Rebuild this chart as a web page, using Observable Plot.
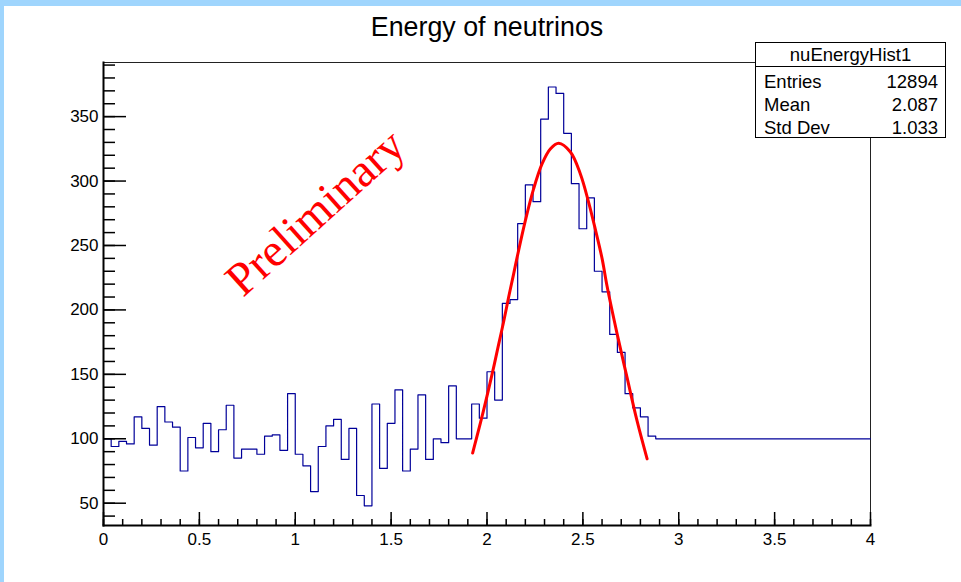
<!DOCTYPE html>
<html>
<head>
<meta charset="utf-8">
<script src="https://cdn.jsdelivr.net/npm/d3@7"></script>
<script src="https://cdn.jsdelivr.net/npm/@observablehq/plot@0.6"></script>
<style>
  html, body { margin: 0; padding: 0; background: white; }
  #wrap { position: relative; width: 961px; height: 582px; overflow: hidden; background: white; }
  #bandTop { position: absolute; left: 0; top: 0; width: 961px; height: 6px; background: #9fd5fd; }
  #bandLeft { position: absolute; left: 0; top: 0; width: 4px; height: 582px; background: #9fd5fd; }
  #stats { position: absolute; left: 755px; top: 42px; width: 189px; height: 94px; overflow: hidden;
           border: 1.5px solid #000; background: #fff; font-family: "Liberation Sans", Arial, sans-serif;
           font-size: 18.5px; color: #000; }
  #stats .head { height: 23px; line-height: 24px; text-align: center; border-bottom: 1.5px solid #000; }
  #stats .rows { padding-top: 2px; }
  #stats .row { display: flex; justify-content: space-between; height: 23px; line-height: 25px; padding: 0 7px 0 8px; }
</style>
</head>
<body>
<div id="wrap">
  <div id="chart"></div>
  <div id="stats"></div>
  <div id="bandTop"></div>
  <div id="bandLeft"></div>
</div>
<script>
// ---- data ----
const histName = "nuEnergyHist1";
const chartTitle = "Energy of neutrinos";
const watermark = "Preliminary";
const xMin = 0, xMax = 4, nBins = 100;
const binCounts = [
  100, 94, 98, 96, 117, 108, 95, 125, 113, 109,
  75, 101, 93, 112, 90, 107, 126, 85, 92, 92,
  88, 102, 103, 91, 135, 88, 79, 59, 94, 110,
  115, 84, 108, 56, 48, 127, 77, 112, 138, 75,
  92, 134, 84, 100, 97, 141, 100, 100, 127, 116,
  152, 130, 205, 208, 267, 297, 284, 348, 373, 368,
  337, 298, 263, 287, 230, 214, 181, 167, 135, 124,
  117, 102, 100, 100, 100, 100, 100, 100, 100, 100,
  100, 100, 100, 100, 100, 100, 100, 100, 100, 100,
  100, 100, 100, 100, 100, 100, 100, 100, 100, 100
];
// fit curve points
const fitX = [1.925, 1.982, 2.034, 2.061, 2.087, 2.113, 2.139, 2.157, 2.200, 2.243, 2.287, 2.330, 2.374,
              2.435, 2.487, 2.530, 2.565, 2.600, 2.626, 2.678, 2.730, 2.782, 2.835];
const fitY = [88.9, 122.0, 155.0, 173.5, 191.0, 210.0, 228.0, 240.8, 269.3, 293.9, 313.3, 324.9, 329.3,
              322.5, 305.5, 283.5, 262.5, 240.0, 218.5, 181.8, 147.8, 114.2, 84.4];
const yDomain = [32.7, 392];
const xMajorTicks = [0, 0.5, 1, 1.5, 2, 2.5, 3, 3.5, 4];
const xMinorTicks = d3.range(0, 41).map(i => i / 10);
const yMajorTicks = [50, 100, 150, 200, 250, 300, 350];
const yMinorTicks = d3.range(40, 391, 10);
const statsLabels = ["Entries", "Mean", "Std Dev"];
const statsValues = ["12894", "2.087", "1.033"];

// ---- derived tables ----
const binWidth = (xMax - xMin) / nBins;
const stepPts = [];
binCounts.forEach((c, i) => {
  stepPts.push({x: xMin + i * binWidth, y: c});
  stepPts.push({x: xMin + (i + 1) * binWidth, y: c});
});
const fitPts = fitX.map((x, i) => ({x, y: fitY[i]}));

const frameH = 582 - 62 - 57;
const frameW = 961 - 103 - 91;

const chart = Plot.plot({
  width: 961,
  height: 582,
  marginTop: 62,
  marginLeft: 103,
  marginRight: 91,
  marginBottom: 57,
  x: {domain: [xMin, xMax], label: null},
  y: {domain: yDomain, label: null},
  style: {fontFamily: "'Liberation Sans', Arial, sans-serif", background: "white", color: "black", overflow: "visible"},
  marks: [
    Plot.frame({stroke: "#222", strokeWidth: 1}),
    Plot.line(stepPts, {x: "x", y: "y", stroke: "#000099", strokeWidth: 1.2}),
    Plot.line(fitPts, {x: "x", y: "y", stroke: "#ff0000", strokeWidth: 3, curve: "catmull-rom"}),
    Plot.tickX(xMinorTicks, {x: d => d, stroke: "black", strokeWidth: 1.5, insetTop: frameH - 6}),
    Plot.tickX(xMajorTicks, {x: d => d, stroke: "black", strokeWidth: 1.5, insetTop: frameH - 13}),
    Plot.tickY(yMinorTicks, {y: d => d, stroke: "black", strokeWidth: 1.5, insetRight: frameW - 12}),
    Plot.tickY(yMajorTicks, {y: d => d, stroke: "black", strokeWidth: 1.5, insetRight: frameW - 23}),
    Plot.frame({anchor: "left", stroke: "black", strokeWidth: 2}),
    Plot.frame({anchor: "bottom", stroke: "black", strokeWidth: 2}),
    Plot.axisX({ticks: xMajorTicks, label: null, tickSize: 0, tickPadding: 7, fontSize: 17, tickFormat: d => String(d)}),
    Plot.axisY({ticks: yMajorTicks, label: null, tickSize: 0, tickPadding: 5, fontSize: 17, tickFormat: d => String(d)}),
    Plot.text([chartTitle], {frameAnchor: "top", dy: -35, fontSize: 26.8, fill: "black", lineAnchor: "middle"}),
    Plot.text([watermark], {frameAnchor: "top-left", dx: 212, dy: 150, rotate: -42, fontSize: 47,
      fontFamily: "'Liberation Serif', 'Times New Roman', serif", fill: "#ff0000", textAnchor: "middle", lineAnchor: "middle"})
  ]
});
document.getElementById("chart").appendChild(chart);

// stats box
const stats = document.getElementById("stats");
const head = document.createElement("div");
head.className = "head";
head.textContent = histName;
stats.appendChild(head);
const rows = document.createElement("div");
rows.className = "rows";
stats.appendChild(rows);
statsLabels.forEach((l, i) => {
  const row = document.createElement("div");
  row.className = "row";
  const a = document.createElement("span"); a.textContent = l;
  const b = document.createElement("span"); b.textContent = statsValues[i];
  row.appendChild(a); row.appendChild(b);
  rows.appendChild(row);
});
</script>
</body>
</html>
